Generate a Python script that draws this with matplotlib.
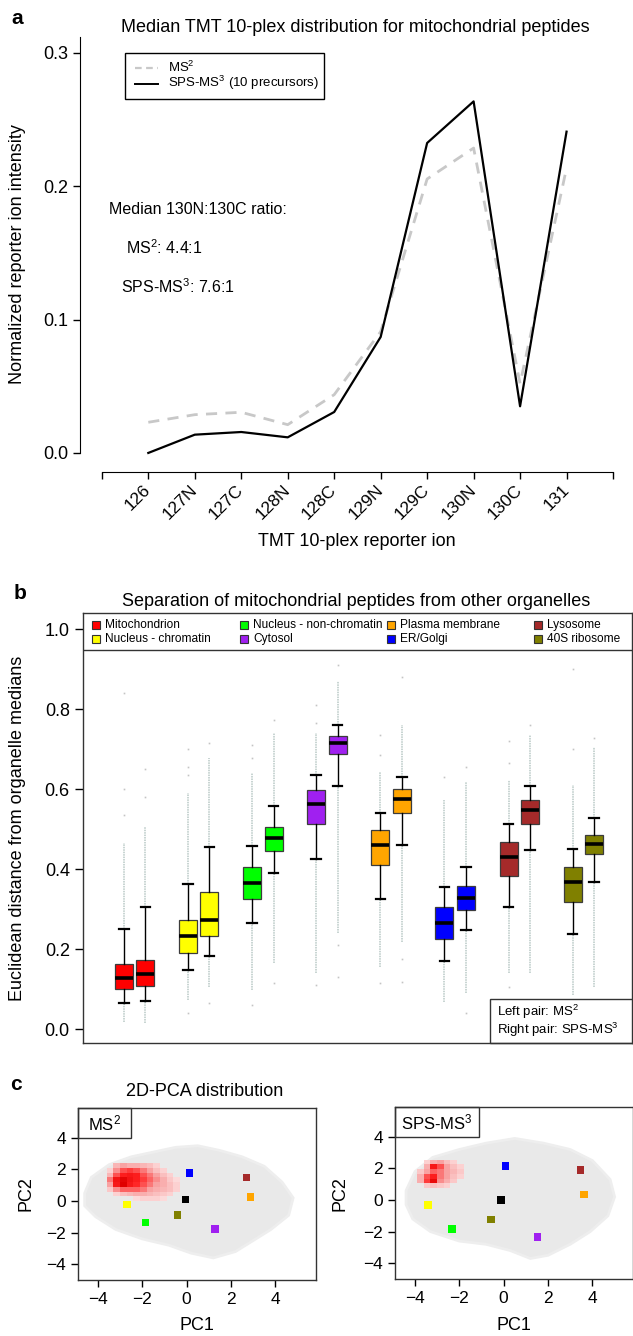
import numpy as np
import matplotlib
matplotlib.use("Agg")
import matplotlib.pyplot as plt
from matplotlib.patches import Rectangle, Polygon
from matplotlib.colors import LinearSegmentedColormap

plt.rcParams['font.family'] = ['Liberation Sans', 'DejaVu Sans']
plt.rcParams['mathtext.fontset'] = 'custom'
plt.rcParams['mathtext.rm'] = 'Liberation Sans'
plt.rcParams['mathtext.it'] = 'Liberation Sans'
plt.rcParams['mathtext.default'] = 'rm'

# ---------------- data: panel a ----------------
ions = ['126', '127N', '127C', '128N', '128C', '129N', '129C', '130N', '130C', '131']
ms2_median = [0.023, 0.0287, 0.0305, 0.0212, 0.0437, 0.091, 0.2055, 0.2287, 0.052, 0.2137]
ms3_median = [0.0, 0.0137, 0.0157, 0.0117, 0.0307, 0.087, 0.2325, 0.2637, 0.035, 0.241]

# ---------------- data: panel b ----------------
organelles = ['Mitochondrion', 'Nucleus - chromatin', 'Nucleus - non-chromatin', 'Cytosol',
              'Plasma membrane', 'ER/Golgi', 'Lysosome', '40S ribosome']
org_colors = ['#ff0000', '#ffff00', '#00ff00', '#a020f0', '#ffa500', '#0000ff', '#a52a2a', '#808000']
# per box: (whisker low, q1, median, q3, whisker high); order MS2, SPS-MS3 for each organelle
box_stats = [
    (0.066, 0.0995, 0.127, 0.162, 0.251), (0.071, 0.108, 0.137, 0.172, 0.306),
    (0.147, 0.189, 0.2325, 0.2725, 0.3625), (0.1825, 0.232, 0.2725, 0.342, 0.456),
    (0.266, 0.324, 0.366, 0.406, 0.458), (0.389, 0.446, 0.478, 0.506, 0.5575),
    (0.424, 0.512, 0.562, 0.597, 0.636), (0.6075, 0.6875, 0.716, 0.7325, 0.759),
    (0.324, 0.409, 0.459, 0.498, 0.539), (0.46, 0.541, 0.574, 0.599, 0.630),
    (0.171, 0.225, 0.264, 0.304, 0.354), (0.248, 0.2975, 0.3275, 0.3575, 0.404),
    (0.306, 0.383, 0.431, 0.4675, 0.5125), (0.447, 0.5125, 0.5475, 0.572, 0.6075),
    (0.238, 0.3175, 0.3675, 0.405, 0.450), (0.368, 0.4375, 0.4625, 0.485, 0.5275),
]
# dense outlier extent (lowest, highest) and isolated outliers
outlier_low = [0.018, 0.014, 0.0725, 0.106, 0.0975, 0.164, 0.139, 0.239,
               0.156, 0.218, 0.068, 0.089, 0.139, 0.139, 0.085, 0.106]
outlier_high = [0.464, 0.506, 0.589, 0.677, 0.639, 0.739, 0.739, 0.87,
                0.643, 0.76, 0.5725, 0.618, 0.622, 0.735, 0.61, 0.706]
outlier_sparse = [
    [0.535, 0.60, 0.84], [0.58, 0.65], [0.039, 0.635, 0.655, 0.70], [0.064, 0.714],
    [0.06, 0.677, 0.71], [0.115, 0.772], [0.11, 0.764, 0.81], [0.13, 0.21, 0.91],
    [0.114, 0.685, 0.735], [0.118, 0.176, 0.88], [0.631], [0.039, 0.655],
    [0.106, 0.664, 0.72], [0.76], [0.70, 0.90], [0.727],
]
box_pos = [1, 2, 4, 5, 7, 8, 10, 11, 13, 14, 16, 17, 19, 20, 22, 23]

# ---------------- data: panel c ----------------
center_colors = ['#0000ff', '#a52a2a', '#ffa500', '#000000', '#ffff00', '#808000', '#00ff00', '#a020f0']
ms2_pc1 = [0.12, 2.70, 2.88, -0.06, -2.70, -0.42, -1.85, 1.29]
ms2_pc2 = [1.79, 1.48, 0.27, 0.10, -0.21, -0.89, -1.35, -1.79]
ms3_pc1 = [0.08, 3.46, 3.63, -0.13, -3.41, -0.57, -2.33, 1.52]
ms3_pc2 = [2.15, 1.90, 0.34, 0.02, -0.30, -1.24, -1.84, -2.34]

ms2_cloud = [(-4.6, 0.5), (-4.3, 1.5), (-3.5, 2.3), (-2.5, 2.8), (-1.5, 3.1), (-0.5, 3.4),
             (0.5, 3.5), (1.5, 3.2), (2.5, 2.8), (3.5, 2.2), (4.3, 1.2), (4.8, 0.2),
             (4.6, -0.9), (3.8, -1.8), (3.0, -2.5), (2.2, -3.2), (1.2, -3.6), (0.2, -3.3),
             (-0.8, -2.8), (-2.0, -2.4), (-3.2, -1.8), (-4.1, -1.0), (-4.6, -0.3)]
ms3_cloud = [(-4.4, 0.6), (-4.0, 1.8), (-3.2, 2.7), (-2.0, 3.2), (-0.8, 3.6), (0.5, 3.9),
             (1.8, 3.6), (3.0, 3.2), (4.0, 2.5), (4.8, 1.3), (5.0, 0.2), (4.7, -1.0),
             (3.9, -2.0), (3.0, -2.8), (2.0, -3.5), (1.2, -3.7), (0.3, -3.2), (-0.8, -2.8),
             (-2.0, -2.6), (-3.3, -2.0), (-4.1, -1.2), (-4.4, -0.3)]

ms2_mito_x = [-3.45, -3.15, -2.85, -2.55, -2.25, -1.95, -1.65, -1.35, -1.05, -0.75, -0.45]
ms2_mito_y = [2.25, 1.95, 1.65, 1.35, 1.05, 0.75, 0.45, 0.15]
ms2_mito = [
    [0, .25, .35, .3, .3, .25, .2, .1, 0, 0, 0],
    [.1, .4, .55, .6, .55, .45, .35, .2, .1, 0, 0],
    [.25, .55, .7, .75, .7, .55, .45, .35, .2, .1, 0],
    [.45, .8, .95, .8, .7, .6, .5, .4, .3, .15, .05],
    [.35, .75, 1.0, .75, .65, .55, .45, .35, .3, .2, .1],
    [.15, .4, .5, .5, .5, .45, .35, .3, .25, .2, .1],
    [0, .1, .2, .25, .3, .3, .25, .2, .15, .1, 0],
    [0, 0, 0, 0, .05, .1, .1, .1, .05, 0, 0],
]
ms3_mito_x = [-3.75, -3.45, -3.15, -2.85, -2.55, -2.25, -1.95]
ms3_mito_y = [2.4, 2.1, 1.8, 1.5, 1.2, 0.9]
ms3_mito = [
    [0, .1, .3, .35, .2, .1, 0],
    [0, .3, .75, .55, .35, .2, .1],
    [.15, .35, .5, .45, .35, .25, .15],
    [.3, .55, .7, .45, .35, .2, .1],
    [.3, .6, .9, .4, .3, .15, 0],
    [0, .15, .2, .15, .1, 0, 0],
]

W, H = 633, 1336
fig = plt.figure(figsize=(W / 100, H / 100), dpi=100)


def ax_px(x0, y0, x1, y1):
    return fig.add_axes([x0 / W, 1 - y1 / H, (x1 - x0) / W, (y1 - y0) / H])


def ftext(x, y, s, **kw):
    return fig.text(x / W, 1 - y / H, s, **kw)


# ================= panel a =================
axA = ax_px(80, 37, 633, 472)
xa = np.arange(1, len(ions) + 1)
axA.plot(xa, ms2_median, color='#c8c8c8', lw=2, dashes=(4, 3))
axA.plot(xa, ms3_median, color='black', lw=1.6)
axA.set_xlim(-0.47, 11.43)
axA.set_ylim(-0.0143, 0.312)
for s in ['top', 'right']:
    axA.spines[s].set_visible(False)
axA.spines['left'].set_bounds(0, 0.312)
axA.spines['bottom'].set_bounds(0, 11)
axA.set_yticks([0, 0.1, 0.2, 0.3])
axA.set_yticklabels(['0.0', '0.1', '0.2', '0.3'], fontsize=13)
axA.set_xticks(range(12))
axA.set_xticklabels([''] + ions + [''], fontsize=12.5, rotation=45, ha='right', va='center',
                    rotation_mode='anchor')
axA.tick_params(axis='both', length=5, width=1)
axA.tick_params(axis='x', pad=6)
ftext(355, 28, 'Median TMT 10-plex distribution for mitochondrial peptides', fontsize=13,
      ha='center', va='center')
ftext(18, 254, 'Normalized reporter ion intensity', rotation=90, fontsize=13, ha='center', va='center')
ftext(357, 541, 'TMT 10-plex reporter ion', fontsize=13, ha='center', va='center')
ftext(17, 18, 'a', fontsize=15, fontweight='bold', ha='center', va='center')
ftext(109, 209, 'Median 130N:130C ratio:', fontsize=11.5, va='center')
ftext(126, 248, 'MS$^{2}$: 4.4:1', fontsize=11.5, va='center')
ftext(121, 287, 'SPS-MS$^{3}$: 7.6:1', fontsize=11.5, va='center')
# legend of panel a
fig.patches.append(Rectangle((125 / W, 1 - 99 / H), 199 / W, 46 / H, transform=fig.transFigure,
                             fill=False, ec='black', lw=1))
fig.lines.append(plt.Line2D([135 / W, 158 / W], [1 - 68 / H] * 2, transform=fig.transFigure,
                            color='#c8c8c8', lw=1.6, dashes=(3, 2)))
fig.lines.append(plt.Line2D([135 / W, 158 / W], [1 - 84 / H] * 2, transform=fig.transFigure,
                            color='black', lw=1.4))
ftext(168, 67, 'MS$^{2}$', fontsize=9.5, va='center')
ftext(168, 83, 'SPS-MS$^{3}$ (10 precursors)', fontsize=9.5, va='center')

# ================= panel b =================
axB = ax_px(83, 613, 632, 1043)
for i, p in enumerate(box_pos):
    axB.vlines(p, outlier_low[i], box_stats[i][0], color='#b9c9c6', lw=1.1, linestyles=(0, (1, 0.6)))
    axB.vlines(p, box_stats[i][4], outlier_high[i], color='#b9c9c6', lw=1.1, linestyles=(0, (1, 0.6)))
    axB.plot([p] * len(outlier_sparse[i]), outlier_sparse[i], 's', ms=1.2, color='#c4c4c4', mew=0)
stats = []
for st in box_stats:
    stats.append({'whislo': st[0], 'q1': st[1], 'med': st[2], 'q3': st[3], 'whishi': st[4]})
bp = axB.bxp(stats, positions=box_pos, widths=0.84, capwidths=0.45, patch_artist=True,
             showfliers=False,
             boxprops=dict(edgecolor='#3c3c3c', lw=0.9),
             medianprops=dict(color='black', lw=2.6, solid_capstyle='butt'),
             whiskerprops=dict(color='black', lw=1),
             capprops=dict(color='black', lw=1.6))
for i, patch in enumerate(bp['boxes']):
    patch.set_facecolor(org_colors[i // 2])
axB.set_xlim(-0.92, 24.78)
axB.set_ylim(-0.035, 1.04)
axB.set_xticks([])
axB.set_yticks([0, 0.2, 0.4, 0.6, 0.8, 1.0])
axB.set_yticklabels(['0.0', '0.2', '0.4', '0.6', '0.8', '1.0'], fontsize=13)
axB.tick_params(axis='y', length=6, width=1)
for s in axB.spines.values():
    s.set_linewidth(1)
    s.set_color('#333333')
axB.axhline(0.9475, color='#333333', lw=1)
col_x = [96, 244, 391, 538]
row_y = [625, 639]
for k, name in enumerate(organelles):
    cx = col_x[k // 2]
    cy = row_y[k % 2]
    fig.patches.append(Rectangle(((cx - 4) / W, 1 - (cy + 4) / H), 8 / W, 8 / H,
                                 transform=fig.transFigure, fc=org_colors[k], ec='#333333', lw=0.8))
    ftext(cx + 9, cy, name, fontsize=8.6, va='center')
fig.patches.append(Rectangle((490 / W, 1 - 1043 / H), 143 / W, 44 / H, transform=fig.transFigure,
                             fill=False, ec='#333333', lw=1))
ftext(497, 1012, 'Left pair: MS$^{2}$', fontsize=9.5, va='center')
ftext(497, 1030, 'Right pair: SPS-MS$^{3}$', fontsize=9.5, va='center')
ftext(356, 601, 'Separation of mitochondrial peptides from other organelles', fontsize=13,
      ha='center', va='center')
ftext(18, 828, 'Euclidean distance from organelle medians', rotation=90, fontsize=13,
      ha='center', va='center')
ftext(20, 594, 'b', fontsize=15, fontweight='bold', ha='center', va='center')

# ================= panel c =================
cmap_red = LinearSegmentedColormap.from_list('mito', ['#fde2e2', '#f8a8a8', '#ff2020', '#e00000'])


def pca_panel(ax, cloud, mx, my, mz, pc1, pc2, label, box_w):
    ax.add_patch(Polygon(cloud, closed=True, fc='#e9e9e9', ec='#eeeeee', lw=2, zorder=1))
    z = np.ma.masked_less_equal(np.array(mz), 0.0)
    ax.pcolormesh(np.array(mx), np.array(my), z, cmap=cmap_red, vmin=0, vmax=1, shading='nearest',
                  zorder=2)
    ax.scatter(pc1, pc2, marker='s', s=30, c=center_colors, edgecolors='none', zorder=3)
    ax.set_xlim(-4.9, 5.83)
    ax.set_ylim(-5.0, 5.89)
    ax.set_xticks([-4, -2, 0, 2, 4])
    ax.set_xticklabels(['\u22124', '\u22122', '0', '2', '4'], fontsize=12.5)
    ax.set_yticks([-4, -2, 0, 2, 4])
    ax.set_yticklabels(['\u22124', '\u22122', '0', '2', '4'], fontsize=12.5)
    ax.tick_params(length=5, width=1)
    for s in ax.spines.values():
        s.set_linewidth(1)
        s.set_color('#333333')
    ax.add_patch(Rectangle((0, 1 - 0.175), box_w, 0.175, transform=ax.transAxes, fill=False,
                           ec='#333333', lw=1, zorder=4, clip_on=False))
    ax.text(box_w / 2, 1 - 0.0875, label, transform=ax.transAxes, fontsize=12, ha='center',
            va='center', zorder=5)


axC1 = ax_px(78, 1108, 316, 1280)
pca_panel(axC1, ms2_cloud, ms2_mito_x, ms2_mito_y, ms2_mito, ms2_pc1, ms2_pc2, 'MS$^{2}$', 0.223)
axC2 = ax_px(395, 1107, 633, 1279)
pca_panel(axC2, ms3_cloud, ms3_mito_x, ms3_mito_y, ms3_mito, ms3_pc1, ms3_pc2, 'SPS-MS$^{3}$', 0.354)
ftext(26, 1194, 'PC2', rotation=90, fontsize=13, ha='center', va='center')
ftext(340, 1194, 'PC2', rotation=90, fontsize=13, ha='center', va='center')
ftext(197, 1326, 'PC1', fontsize=13, ha='center', va='center')
ftext(514, 1326, 'PC1', fontsize=13, ha='center', va='center')
ftext(205, 1092, '2D-PCA distribution', fontsize=13, ha='center', va='center')
ftext(16, 1084, 'c', fontsize=15, fontweight='bold', ha='center', va='center')

fig.savefig('out.png', dpi=100)
